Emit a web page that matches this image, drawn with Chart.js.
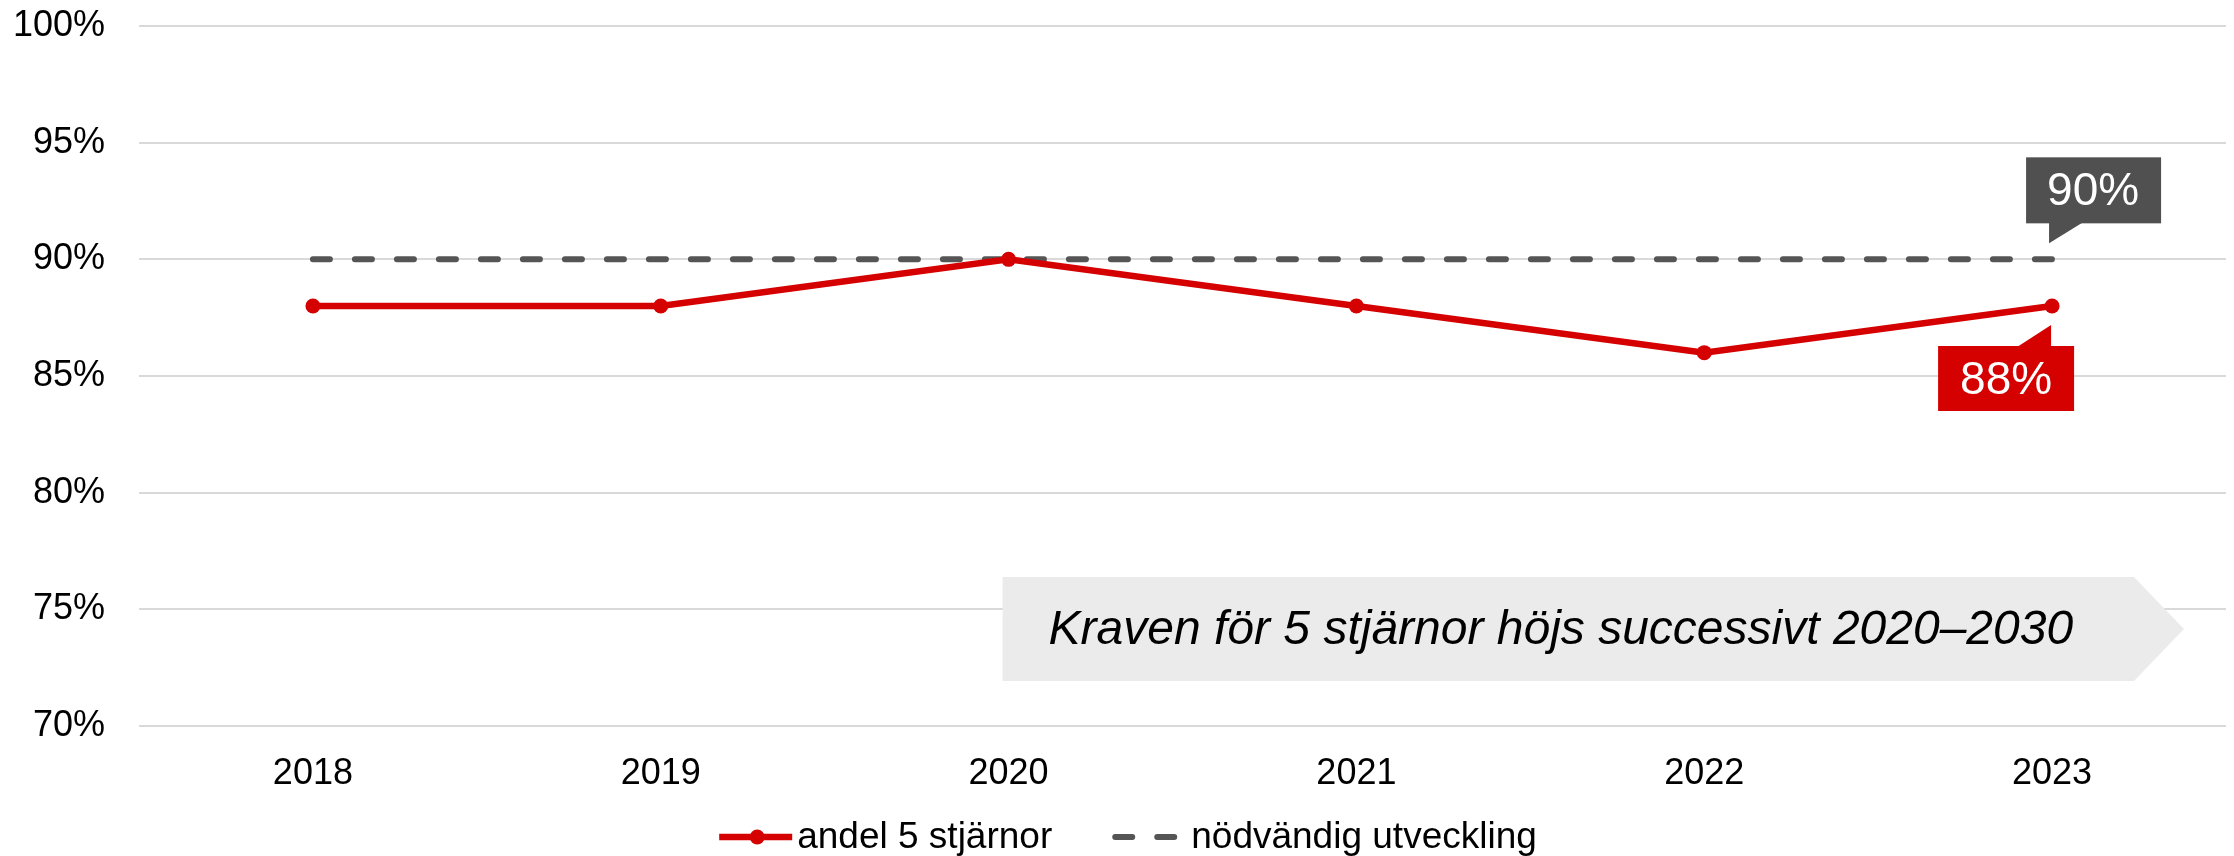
<!DOCTYPE html>
<html lang="sv">
<head>
<meta charset="utf-8">
<title>Andel 5 stjärnor</title>
<script src="https://cdn.jsdelivr.net/npm/chart.js@4.4.0/dist/chart.umd.min.js"></script>
<style>
  html, body { margin: 0; padding: 0; background: #ffffff; }
  canvas { display: block; }
</style>
</head>
<body>
<canvas id="chart" width="2234" height="856"></canvas>
<script>
// --- data ---
const years = ['2018', '2019', '2020', '2021', '2022', '2023'];
const andelFemStjarnor = [88, 88, 90, 88, 86, 88];
const nodvandigUtveckling = [90, 90, 90, 90, 90, 90];
const yTicks = [70, 75, 80, 85, 90, 95, 100];
const seriesNames = ['andel 5 stjärnor', 'nödvändig utveckling'];
const noteText = 'Kraven för 5 stjärnor höjs successivt 2020–2030';

const RED = '#d50000';
const GRAY = '#555555';
const FONT = '"Liberation Sans", Arial, Helvetica, sans-serif';

// grå pilruta bakom texten om kraven
const notePlugin = {
    id: 'note',
    beforeDatasetsDraw(chart) {
        const { ctx, chartArea, scales } = chart;
        const left = scales.x.getPixelForValue(2) - 6;
        const top = chartArea.top + 551;
        const bottom = chartArea.bottom - 45;
        const right = chartArea.right - 92;
        const tip = chartArea.right - 42;
        const mid = (top + bottom) / 2;
        ctx.save();
        ctx.fillStyle = '#ebebeb';
        ctx.beginPath();
        ctx.moveTo(left, top);
        ctx.lineTo(right, top);
        ctx.lineTo(tip, mid);
        ctx.lineTo(right, bottom);
        ctx.lineTo(left, bottom);
        ctx.closePath();
        ctx.fill();
        ctx.fillStyle = '#000000';
        ctx.font = 'italic 48px ' + FONT;
        ctx.textBaseline = 'middle';
        ctx.textAlign = 'left';
        ctx.fillText(noteText, left + 46, mid + 2);
        ctx.restore();
    }
};

// etiketter (pratbubblor) vid sista punkten
const calloutPlugin = {
    id: 'callouts',
    afterDatasetsDraw(chart) {
        const { ctx } = chart;
        const last = years.length - 1;
        ctx.save();
        ctx.font = '46px ' + FONT;
        ctx.textAlign = 'center';
        ctx.textBaseline = 'middle';

        // grå ovanför
        const g = chart.getDatasetMeta(1).data[last];
        let px = g.x, py = g.y;
        ctx.fillStyle = '#505050';
        ctx.fillRect(px - 26, py - 102, 135, 66);
        ctx.beginPath();
        ctx.moveTo(px - 3, py - 37);
        ctx.lineTo(px - 3, py - 16);
        ctx.lineTo(px + 31, py - 37);
        ctx.closePath();
        ctx.fill();
        ctx.fillStyle = '#ffffff';
        ctx.fillText(nodvandigUtveckling[last] + '%', px + 41, py - 67);

        // röd nedanför
        const r = chart.getDatasetMeta(0).data[last];
        px = r.x; py = r.y;
        ctx.fillStyle = RED;
        ctx.fillRect(px - 114, py + 40, 136, 65);
        ctx.beginPath();
        ctx.moveTo(px - 35, py + 41);
        ctx.lineTo(px - 1, py + 19);
        ctx.lineTo(px - 1, py + 41);
        ctx.closePath();
        ctx.fill();
        ctx.fillStyle = '#ffffff';
        ctx.fillText(andelFemStjarnor[last] + '%', px - 46, py + 75);
        ctx.restore();
    }
};

// egen legend under diagrammet
const legendPlugin = {
    id: 'customLegend',
    afterDraw(chart) {
        const { ctx, width } = chart;
        const y = 837;
        ctx.save();
        ctx.font = '37px ' + FONT;
        ctx.textBaseline = 'middle';
        ctx.textAlign = 'left';
        const w0 = ctx.measureText(seriesNames[0]).width;
        const w1 = ctx.measureText(seriesNames[1]).width;
        const total = 73 + 5 + w0 + 60 + 65 + 14 + w1;
        let x = width / 2 + 11 - total / 2;

        ctx.strokeStyle = RED;
        ctx.lineWidth = 6.5;
        ctx.beginPath();
        ctx.moveTo(x, y);
        ctx.lineTo(x + 73, y);
        ctx.stroke();
        ctx.fillStyle = RED;
        ctx.beginPath();
        ctx.arc(x + 38, y, 7.5, 0, Math.PI * 2);
        ctx.fill();
        x += 78;
        ctx.fillStyle = '#000000';
        ctx.fillText(seriesNames[0], x, y + 1);
        x += w0 + 60;

        ctx.strokeStyle = GRAY;
        ctx.lineWidth = 6;
        ctx.lineCap = 'round';
        ctx.setLineDash([17, 25]);
        ctx.beginPath();
        ctx.moveTo(x + 3, y);
        ctx.lineTo(x + 62, y);
        ctx.stroke();
        ctx.setLineDash([]);
        x += 79;
        ctx.fillText(seriesNames[1], x, y + 1);
        ctx.restore();
    }
};

document.addEventListener('DOMContentLoaded', () => {
    const ctx = document.getElementById('chart').getContext('2d');
    new Chart(ctx, {
        type: 'line',
        data: {
            labels: years,
            datasets: [
                {
                    label: seriesNames[0],
                    data: andelFemStjarnor,
                    borderColor: RED,
                    backgroundColor: RED,
                    borderWidth: 6.5,
                    pointRadius: 7.5,
                    pointBorderWidth: 0,
                    pointBackgroundColor: RED,
                    tension: 0
                },
                {
                    label: seriesNames[1],
                    data: nodvandigUtveckling,
                    borderColor: GRAY,
                    borderWidth: 6,
                    borderDash: [17, 25],
                    borderCapStyle: 'round',
                    pointRadius: 0,
                    tension: 0
                }
            ]
        },
        options: {
            responsive: false,
            animation: false,
            devicePixelRatio: 1,
            layout: { padding: { left: 13, right: 8, top: 26, bottom: 65 } },
            plugins: {
                legend: { display: false },
                tooltip: { enabled: false }
            },
            scales: {
                x: {
                    offset: true,
                    grid: { display: false, drawTicks: false },
                    border: { display: false },
                    afterFit(scale) {
                        scale.height = 65;
                        scale.paddingLeft = 0;
                        scale.paddingRight = 0;
                    },
                    ticks: {
                        color: '#000000',
                        padding: 26,
                        font: { family: FONT, size: 36 }
                    }
                },
                y: {
                    min: yTicks[0],
                    max: yTicks[yTicks.length - 1],
                    afterBuildTicks(scale) {
                        scale.ticks = yTicks.map(v => ({ value: v }));
                    },
                    afterFit(scale) {
                        scale.width = 126;
                        scale.paddingTop = 0;
                        scale.paddingBottom = 0;
                    },
                    grid: { color: '#d9d9d9', lineWidth: 2, drawTicks: false },
                    border: { display: false },
                    ticks: {
                        color: '#000000',
                        padding: 34,
                        font: { family: FONT, size: 36 },
                        callback: v => v + '%'
                    }
                }
            }
        },
        plugins: [notePlugin, calloutPlugin, legendPlugin]
    });
});
</script>
</body>
</html>
